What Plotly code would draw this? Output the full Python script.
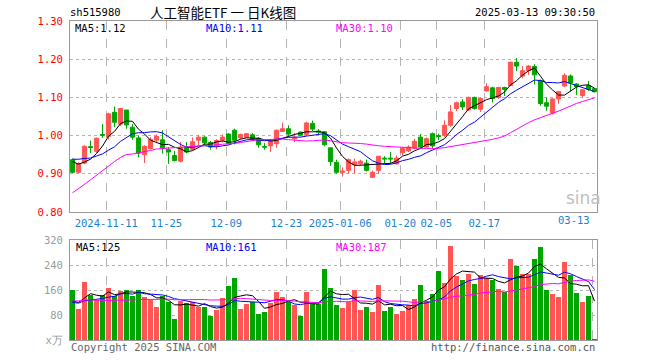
import pandas as pd
import plotly.graph_objects as go

# ---------------- data ----------------
holidays = ["2025-01-01", "2025-01-28", "2025-01-29", "2025-01-30",
            "2025-01-31", "2025-02-03", "2025-02-04"]
dates = [d.strftime("%Y-%m-%d") for d in pd.bdate_range("2024-11-01", "2025-03-13")
         if d.strftime("%Y-%m-%d") not in holidays]

opens = [0.937, 0.904, 0.928, 0.971, 0.959, 1.003, 0.998, 1.061, 1.030, 1.067,
         1.022, 0.994, 0.950, 0.966, 0.988, 0.989, 0.963, 0.948, 0.933, 0.970,
         0.964, 0.988, 0.996, 0.982, 0.973, 0.988, 1.004, 1.014, 0.994, 0.996,
         1.002, 0.993, 0.971, 0.973, 0.979, 1.011, 1.018, 0.992, 1.009, 1.003,
         1.032, 1.012, 1.010, 0.968, 0.930, 0.904, 0.909, 0.924, 0.926, 0.928,
         0.891, 0.909, 0.941, 0.941, 0.926, 0.955, 0.960, 0.967, 0.996, 0.970,
         1.005, 1.000, 1.001, 1.027, 1.071, 1.088, 1.067, 1.100, 1.069, 1.117,
         1.125, 1.100, 1.126, 1.131, 1.192, 1.156, 1.170, 1.181, 1.144, 1.086,
         1.059, 1.096, 1.130, 1.156, 1.135, 1.105, 1.131, 1.123]
highs = [0.940, 0.930, 0.975, 0.987, 0.995, 1.030, 1.060, 1.076, 1.072, 1.067,
         1.030, 1.000, 0.975, 0.996, 1.003, 1.014, 0.970, 0.960, 0.983, 0.983,
         0.995, 1.002, 0.998, 0.986, 0.991, 1.003, 1.006, 1.018, 1.005, 1.007,
         1.007, 0.996, 0.981, 0.989, 1.016, 1.034, 1.027, 1.007, 1.011, 1.036,
         1.039, 1.017, 1.012, 0.968, 0.937, 0.917, 0.940, 0.940, 0.937, 0.937,
         0.909, 0.946, 0.946, 0.957, 0.948, 0.970, 0.975, 0.992, 1.004, 0.995,
         1.008, 1.005, 1.040, 1.080, 1.089, 1.095, 1.102, 1.102, 1.100, 1.137,
         1.128, 1.128, 1.128, 1.194, 1.203, 1.182, 1.185, 1.187, 1.147, 1.100,
         1.097, 1.117, 1.163, 1.160, 1.137, 1.121, 1.143, 1.124]
lows = [0.902, 0.902, 0.925, 0.954, 0.955, 0.994, 0.990, 1.022, 1.025, 1.018,
        0.989, 0.943, 0.928, 0.963, 0.980, 0.953, 0.926, 0.932, 0.930, 0.954,
        0.961, 0.975, 0.976, 0.963, 0.964, 0.982, 0.977, 0.977, 0.990, 0.994,
        0.988, 0.968, 0.963, 0.957, 0.968, 1.010, 0.999, 0.983, 0.998, 0.999,
        1.012, 1.004, 0.972, 0.921, 0.900, 0.893, 0.900, 0.900, 0.922, 0.906,
        0.889, 0.900, 0.928, 0.926, 0.924, 0.948, 0.957, 0.964, 0.967, 0.969,
        0.968, 0.988, 0.996, 1.023, 1.064, 1.067, 1.065, 1.068, 1.062, 1.115,
        1.087, 1.096, 1.104, 1.129, 1.169, 1.150, 1.159, 1.134, 1.078, 1.065,
        1.055, 1.083, 1.127, 1.115, 1.106, 1.100, 1.117, 1.113]
closes = [0.904, 0.927, 0.972, 0.969, 0.993, 1.001, 1.057, 1.035, 1.071, 1.028,
          0.996, 0.954, 0.972, 0.990, 0.998, 0.968, 0.957, 0.935, 0.970, 0.957,
          0.984, 0.996, 0.981, 0.970, 0.987, 0.996, 0.979, 0.988, 1.003, 1.005,
          0.992, 0.976, 0.970, 0.985, 1.014, 1.018, 1.004, 0.994, 1.001, 1.033,
          1.017, 1.009, 0.976, 0.932, 0.904, 0.907, 0.937, 0.931, 0.933, 0.909,
          0.904, 0.946, 0.939, 0.939, 0.941, 0.966, 0.970, 0.985, 0.970, 0.992,
          0.973, 0.998, 1.027, 1.062, 1.086, 1.075, 1.100, 1.071, 1.097, 1.128,
          1.097, 1.126, 1.121, 1.192, 1.182, 1.170, 1.182, 1.159, 1.084, 1.077,
          1.096, 1.115, 1.158, 1.138, 1.128, 1.120, 1.121, 1.115]
volumes = [160, 99, 186, 144, 128, 144, 168, 141, 157, 160,
           141, 160, 139, 128, 107, 141, 121, 67, 125, 120,
           123, 107, 107, 78, 96, 136, 173, 200, 99, 115,
           121, 83, 89, 120, 154, 139, 121, 112, 78, 154,
           116, 116, 227, 168, 112, 104, 121, 160, 96, 107,
           90, 176, 93, 107, 83, 93, 112, 131, 176, 125,
           146, 221, 184, 301, 205, 192, 210, 178, 208, 197,
           192, 163, 153, 259, 237, 211, 211, 259, 298, 160,
           146, 139, 250, 208, 149, 121, 141, 3]

# sessions before the visible window (estimated from where the MA lines start)
closes_before = [0.615, 0.620, 0.612, 0.625, 0.648, 0.665, 0.710, 0.745, 0.800,
                 0.960, 0.880, 0.900, 0.860, 0.880, 0.920, 0.900, 0.930, 0.950,
                 0.940, 0.960, 0.930, 0.950, 0.960, 0.940, 0.945, 0.960, 0.945,
                 0.930, 0.920]
volumes_before = [105, 98, 112, 160, 185, 170, 150, 140, 135, 128, 120, 118, 130,
                  125, 115, 110, 122, 118, 108, 105, 120, 110, 125, 105, 115,
                  124, 115, 74, 153]

tick_dates = ["2024-11-11", "2024-11-25", "2024-12-09", "2024-12-23", "2025-01-06",
              "2025-01-20", "2025-02-05", "2025-02-17", "2025-03-13"]
tick_labels = ["2024-11-11", "11-25", "12-09", "12-23", "2025-01-06",
               "01-20", "02-05", "02-17", "03-13"]
price_ticks = [0.80, 0.90, 1.00, 1.10, 1.20, 1.30]
vol_ticks = [0, 80, 160, 240, 320]
vol_tick_labels = ["x万", "80", "160", "240", "320"]

# ---------------- styling ----------------
RED = "#ff5555"
GREEN = "#00a600"
MONO = "DejaVu Sans Mono"
n = len(dates)
idx = list(range(n))

cs = pd.Series(closes_before + closes)
vs = pd.Series(volumes_before + volumes)
ma = {k: cs.rolling(k).mean().iloc[-n:].tolist() for k in (5, 10, 30)}
vma = {k: vs.rolling(k).mean().iloc[-n:].tolist() for k in (5, 10, 30)}
ma_colors = {5: "#000000", 10: "#0000ff", 30: "#ff00ff"}

grid_x = [dates.index(d) - 0.37 for d in tick_dates]

fig = go.Figure()
fig.add_trace(go.Candlestick(
    x=idx, open=opens, high=highs, low=lows, close=closes,
    increasing=dict(line=dict(color=RED, width=1), fillcolor=RED),
    decreasing=dict(line=dict(color=GREEN, width=1), fillcolor=GREEN),
    whiskerwidth=0, xaxis="x", yaxis="y", showlegend=False))
for k in (5, 10, 30):
    fig.add_trace(go.Scatter(x=idx, y=ma[k], mode="lines",
                             line=dict(color=ma_colors[k], width=1),
                             xaxis="x", yaxis="y", showlegend=False))

vcolors = [RED if c >= o else GREEN for o, c in zip(opens, closes)]
fig.add_trace(go.Bar(x=idx, y=volumes, marker=dict(color=vcolors, line=dict(width=0)),
                     width=0.82, xaxis="x2", yaxis="y2", showlegend=False))
for k in (5, 10, 30):
    fig.add_trace(go.Scatter(x=idx, y=vma[k], mode="lines",
                             line=dict(color=ma_colors[k], width=1),
                             xaxis="x2", yaxis="y2", showlegend=False))

L, R, T, B = 70, 597, 21, 340
W, H = 660, 360


def px(x):
    return (x - L) / (R - L)


def py(y):
    return (B - y) / (B - T)


xr = [-2.5 / 6, (R - L) / 6 - 2.5 / 6]
axis_common = dict(showline=True, mirror=True, linecolor="#999999", linewidth=1,
                   zeroline=False, ticks="")
price_dom = [py(212), 1.0]
vol_dom = [0.0, py(240)]

fig.update_layout(
    width=W, height=H,
    margin=dict(l=L, r=W - R, t=T, b=H - B),
    paper_bgcolor="white", plot_bgcolor="white",
    boxgap=0.3, boxgroupgap=0, bargap=0,
    showlegend=False,
    xaxis=dict(domain=[0, 1], anchor="y", range=xr, tickvals=grid_x[:-1],
               ticktext=tick_labels[:-1], showgrid=True, gridcolor="#b4b4b4",
               griddash="dash", gridwidth=1, rangeslider=dict(visible=False),
               tickfont=dict(family=MONO, size=10.5, color="#1a7fd4"),
               ticklabelstandoff=1, **axis_common),
    yaxis=dict(domain=price_dom, anchor="x", range=[0.80, 1.30], tickvals=price_ticks,
               ticktext=[f"{v:.2f}" for v in price_ticks], showgrid=True,
               gridcolor="#b4b4b4", griddash="dot", gridwidth=1,
               tickfont=dict(family=MONO, size=10.5, color="#ff0000"),
               ticklabelstandoff=4, **axis_common),
    xaxis2=dict(domain=[0, 1], anchor="y2", range=xr, tickvals=grid_x,
                showticklabels=False, showgrid=True, gridcolor="#b4b4b4",
                griddash="dash", gridwidth=1, **axis_common),
    yaxis2=dict(domain=vol_dom, anchor="x2", range=[0, 320], tickvals=vol_ticks,
                ticktext=vol_tick_labels, showgrid=True, gridcolor="#b4b4b4",
                griddash="dot", gridwidth=1,
                tickfont=dict(family=MONO, size=10.5, color="#9a9a9a"),
                ticklabelstandoff=4, **axis_common),
)

ann = []


def text(x, y, s, color="#000000", size=10.5, family=MONO, anchor="left", **kw):
    ann.append(dict(x=px(x), y=py(y), xref="paper", yref="paper", text=s,
                    showarrow=False, xanchor=anchor, yanchor="middle",
                    font=dict(family=family, size=size, color=color), **kw))


text(68, 12, "sh515980")
text(148, 12, "人工智能ETF 一 日K线图", size=13.5, family="Noto Sans CJK SC")
text(597, 12, "2025-03-13 09:30:50", anchor="right")
text(73, 28, "MA5:1.12")
text(204, 28, "MA10:1.11", color="#0000ff")
text(334, 28, "MA30:1.10", color="#ff00ff")
text(74, 247, "MA5:125")
text(204, 247, "MA10:161", color="#0000ff")
text(334, 247, "MA30:187", color="#ff00ff")
text(69, 347, "Copyright 2025 SINA.COM", color="#666666")
text(597, 347, "http://finance.sina.com.cn", color="#555555", anchor="right")
text(592, 220, tick_labels[-1], color="#1a7fd4", anchor="right")
text(583, 198, "sina", color="#c0c0c0", size=17, family="DejaVu Sans", anchor="center")
fig.update_layout(annotations=ann)

fig.write_html("out.html", config={"displayModeBar": False},
               post_script="document.body.style.margin='0px';")
